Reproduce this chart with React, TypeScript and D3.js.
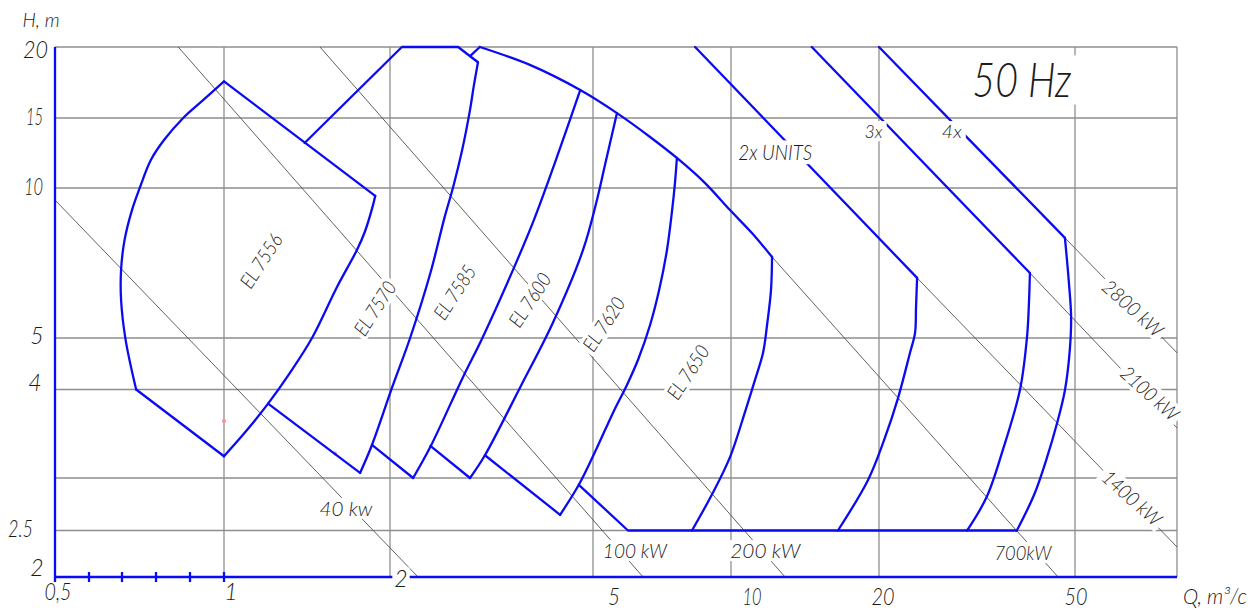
import React, { useEffect, useRef } from 'react';
import * as d3 from 'd3';

type P = [number, number]; // [Q m³/s, H m]

// Axis breakpoints: flow Q and head H
const qBreaks = [0.5, 0.6, 0.7, 0.8, 0.9, 1, 2, 5, 10, 20, 50, 80];
const hBreaks = [2, 2.5, 3, 4, 5, 10, 15, 20];
const qGridValues = [1, 2, 5, 10, 20, 50, 80];
const hGridValues = [2.5, 3, 4, 5, 10, 15, 20];
const qMinorTicks = [0.6, 0.7, 0.8, 0.9, 1];
const qTickValues = [0.5, 1, 2, 5, 10, 20, 50];
const qTickText = ['0,5', '1', '2', '5', '10', '20', '50'];
const hTickValues = [20, 15, 10, 5, 4, 2.5, 2];
const hTickText = ['20', '15', '10', '5', '4', '2.5', '2'];

// EL 7556
const el7556Left: P[] = [[0.74, 4.0], [0.71, 4.96], [0.697, 5.96], [0.697, 6.85], [0.707, 7.86], [0.728, 9.03], [0.7515, 10.06], [0.784, 11.76], [0.8225, 13.2], [0.879, 15.0], [0.938, 16.14], [1, 17.4]];
const el7556Top: P[] = [[1, 17.4], [1.88, 9.64]];
const el7556Right: P[] = [[1.88, 9.64], [1.863, 9.24], [1.8, 8.16], [1.742, 7.51], [1.603, 6.33], [1.444, 5], [1.317, 4.3], [1.202, 3.82], [1.092, 3.48], [1, 3.22]];
const el7556Bottom: P[] = [[0.74, 4.0], [1, 3.22]];
// EL 7570
const el7570Top: P[] = [[1.4, 12.98], [2.11, 20], [2.72, 20], [2.975, 18.8]];
const el7570Right: P[] = [[2.975, 18.8], [2.92, 17.1], [2.87, 15.5], [2.77, 12.46], [2.66, 10.06], [2.56, 8.75], [2.4, 6.75], [2.19, 5], [2.02, 4.04], [1.855, 3.34], [1.765, 3.05]];
const el7570Bottom: P[] = [[1.202, 3.82], [1.765, 3.05]];
// EL 7585
const el7585Top: P[] = [[2.87, 19.28], [3.0, 20]];
const outerEnvelope: P[] = [[3.0, 20], [3.76, 18.6], [4.72, 16.8], [5.64, 15.3], [6.66, 13.44], [7.62, 11.9], [8.78, 10.29], [9.95, 9.03], [11.03, 8.12], [12.12, 7.27]];
const el7585Right: P[] = [[4.72, 16.8], [4.25, 11.97], [3.83, 8.63], [3.485, 6.85], [3.04, 5.02], [2.78, 4.22], [2.4, 3.32], [2.22, 3.0]];
const el7585Bottom: P[] = [[1.855, 3.34], [2.22, 3.0]];
// EL 7600
const el7600Right: P[] = [[5.64, 15.3], [5.31, 11.42], [5.1, 9.46], [4.78, 7.51], [4.17, 5.36], [3.6, 4.04], [3.07, 3.23], [2.87, 3.0]];
const el7600Bottom: P[] = [[2.4, 3.33], [2.87, 3.0]];
// EL 7620
const el7620Right: P[] = [[7.62, 11.9], [7.55, 10.35], [7.44, 9.03], [7.25, 7.51], [6.97, 6.24], [6.66, 5.31], [6.27, 4.55], [5.93, 4.08], [5.53, 3.71], [5.1, 3.31], [4.69, 2.93], [4.31, 2.64]];
const el7620Bottom: P[] = [[3.07, 3.23], [4.31, 2.64]];
// EL 7650
const el7650Right: P[] = [[12.12, 7.27], [12.06, 6.24], [11.84, 5.31], [11.62, 4.69], [11.19, 4.17], [10.68, 3.72], [9.95, 3.21], [9.13, 2.85], [8.22, 2.5]];
const el7650Bottom: P[] = [[4.69, 2.93], [5.96, 2.5], [38.1, 2.5]];
// Parallel units
const units2Line: P[] = [[8.35, 20], [23.9, 6.6]];
const units2Arc: P[] = [[23.9, 6.6], [23.78, 5.77], [23.67, 5.12], [23.12, 4.69], [21.86, 3.89], [20.47, 3.39], [19.0, 2.98], [16.5, 2.5]];
const units3Line: P[] = [[14.6, 20], [40.5, 6.75]];
const units3Arc: P[] = [[40.5, 6.75], [40.3, 5.82], [39.95, 5.02], [38.67, 4.0], [35.7, 3.29], [33.1, 2.81], [30.2, 2.5]];
const units4Line: P[] = [[20, 20], [47.7, 7.94]];
const units4Arc: P[] = [[47.7, 7.94], [48.6, 6.45], [49.1, 5.51], [48.8, 4.75], [47.7, 3.99], [46.0, 3.59], [43.7, 3.18], [41.3, 2.83], [38.1, 2.5]];

// Constant shaft-power lines (kW)
const powerKw = [40, 100, 200, 700, 1400, 2100, 2800];
const powerStart: P[] = [[0.5, 9.46], [0.864, 20], [1.493, 20], [12.12, 7.27], [23.9, 6.6], [40.5, 6.75], [47.7, 7.94]];
const powerEnd: P[] = [[2.27, 2], [6.43, 2], [12.88, 2], [46.2, 2], [80, 2.31], [80, 3.53], [80, 4.69]];
const powerText = ['40 kw', '100 kW', '200 kW', '700kW', '1400 kW', '2100 kW', '2800 kW'];
const powerLabelAt: P[] = [[1.664, 2.7], [6.17, 2.27], [11.74, 2.27], [39.2, 2.25], [65.0, 2.8], [70.6, 3.95], [65.3, 5.74]];

// Pump model labels
const modelNames = ['EL 7556', 'EL 7570', 'EL 7585', 'EL 7600', 'EL 7620', 'EL 7650'];
const modelLabelAt: P[] = [[1.167, 7.14], [1.878, 5.74], [2.68, 6.18], [3.76, 5.96], [5.28, 5.33], [8.06, 4.31]];

const unitText = ['2x UNITS', '3x', '4x'];
const unitLabelAt: P[] = [[12.3, 12.3], [19.5, 13.9], [28.1, 13.9]];
const freqText = '50 Hz';
const freqLabelAt: P = [39, 17.5];
const strayPoints: P[] = [[1, 3.61], [1.59, 3.25]];

// ---- layout ----
const X_RANGE = [55, 89, 122, 156, 190, 224, 390, 593, 731, 879, 1075, 1177];
const Y_RANGE = [577, 530.5, 478, 389.5, 338, 188, 118, 47];
const FONT = "Lato, 'Open Sans', 'DejaVu Sans', sans-serif";
const INK = '#1c1c1c';
const BLUE = '#0b0bf2';
const GRID = '#8e8e8e';
const POWER = '#505050';

const xTickDx = [3, 7, 11, 21, 21, 4, 1];
const xTickBase = [23, 23, 10, 28, 28, 28, 28];
const xTickW = [27, 0, 0, 12, 19, 23, 23];
const yTickEnd = [48, 43, 43, 43, 41, 33, 43];
const yTickDy = [3, -1, -1, -2, -7, -2, -9];
const yTickW = [25, 17, 19, 0, 0, 25, 0];
const powerW = [53, 64, 70, 57, 72, 70, 74];
const powerRot = [0, 0, 0, 0, 42, 42, 42];

export default function App() {
  const ref = useRef<SVGSVGElement>(null);

  useEffect(() => {
    const svg = d3.select(ref.current);
    svg.selectAll('*').remove();

    const x = d3.scaleLog().domain(qBreaks).range(X_RANGE);
    const y = d3.scaleLog().domain(hBreaks).range(Y_RANGE);
    const straight = d3.line<P>().x(d => x(d[0])).y(d => y(d[1]));
    const smooth = d3.line<P>().x(d => x(d[0])).y(d => y(d[1])).curve(d3.curveCatmullRom.alpha(0.5));

    const x0 = x(0.5), x1 = x(80), y0 = y(2), y1 = y(20);

    // grid
    const grid = svg.append('g').attr('stroke', GRID).attr('stroke-width', 1.3).attr('fill', 'none');
    hGridValues.forEach(v => grid.append('line').attr('x1', x0).attr('x2', x1).attr('y1', y(v)).attr('y2', y(v)));
    qGridValues.forEach(v => grid.append('line').attr('x1', x(v)).attr('x2', x(v)).attr('y1', y1).attr('y2', y0));

    // power lines
    const pw = svg.append('g').attr('stroke', POWER).attr('stroke-width', 0.9).attr('fill', 'none');
    powerKw.forEach((_, i) => pw.append('path').attr('d', straight([powerStart[i], powerEnd[i]])!));

    // stray construction points
    strayPoints.forEach(p => svg.append('circle').attr('cx', x(p[0])).attr('cy', y(p[1])).attr('r', 2).attr('fill', '#ff8f8f'));

    // pump ranges
    const blue = svg.append('g').attr('stroke', BLUE).attr('stroke-width', 2.3).attr('fill', 'none')
      .attr('stroke-linejoin', 'round').attr('stroke-linecap', 'round');
    const curves = [el7556Left, el7556Right, el7570Right, outerEnvelope, el7585Right, el7600Right, el7620Right, el7650Right, units2Arc, units3Arc, units4Arc];
    const polylines = [el7556Top, el7556Bottom, el7570Top, el7570Bottom, el7585Top, el7585Bottom, el7600Bottom, el7620Bottom, el7650Bottom, units2Line, units3Line, units4Line];
    curves.forEach(c => blue.append('path').attr('d', smooth(c)!));
    polylines.forEach(c => blue.append('path').attr('d', straight(c)!));

    // axes
    const ax = svg.append('g').attr('stroke', BLUE).attr('stroke-width', 2.3);
    ax.append('line').attr('x1', x0).attr('x2', x0).attr('y1', y1).attr('y2', y0 + 5);
    ax.append('line').attr('x1', x0).attr('x2', x1).attr('y1', y0).attr('y2', y0);
    qMinorTicks.forEach(v => ax.append('line').attr('x1', x(v)).attr('x2', x(v)).attr('y1', y0 - 5).attr('y2', y0 + 5));

    const label = (cx: number, cy: number, rot: number, text: string, size: number, width: number, bg: number) => {
      const g = svg.append('g').attr('transform', `translate(${cx},${cy}) rotate(${rot})`);
      const t = g.append('text').attr('x', 0).attr('y', size * 0.36).attr('text-anchor', 'middle')
        .attr('font-family', FONT).attr('font-style', 'italic').attr('font-weight', 300)
        .attr('font-size', size).attr('fill', INK).text(text);
      if (width > 0) t.attr('textLength', width).attr('lengthAdjust', 'spacingAndGlyphs');
      if (bg >= 0) {
        const b = (t.node() as SVGTextElement).getBBox();
        g.insert('rect', 'text').attr('x', -b.width / 2 - bg).attr('y', -size * 0.45 - bg / 2)
          .attr('width', b.width + 2 * bg).attr('height', size * 0.9 + bg).attr('fill', '#fff');
      }
    };

    // tick labels
    qTickValues.forEach((v, i) => {
      label(x(v) + xTickDx[i], y0 + xTickBase[i] - 23 * 0.36, 0, qTickText[i], 23, xTickW[i], v === 2 ? 2 : -1);
    });
    hTickValues.forEach((v, i) => {
      const w = yTickW[i] > 0 ? yTickW[i] : 12;
      label(yTickEnd[i] - w / 2, y(v) + yTickDy[i], 0, hTickText[i], 23, yTickW[i], -1);
    });
    label(41, 20, 0, 'H, m', 19, 37, -1);
    label(1215, 596, 0, 'Q, m³/c', 21, 64, -1);

    // annotations
    powerText.forEach((t, i) => {
      const p = powerLabelAt[i];
      label(x(p[0]), y(p[1]), powerRot[i], t, 20, powerW[i], 3);
    });
    modelNames.forEach((t, i) => {
      const p = modelLabelAt[i];
      label(x(p[0]), y(p[1]), -57, t, 20, 60, 3);
    });
    label(x(unitLabelAt[0][0]), y(unitLabelAt[0][1]), 0, unitText[0], 22, 74, 4);
    label(x(unitLabelAt[1][0]), y(unitLabelAt[1][1]), 0, unitText[1], 18, 18, 4);
    label(x(unitLabelAt[2][0]), y(unitLabelAt[2][1]), 0, unitText[2], 18, 20, 4);
    label(x(freqLabelAt[0]), y(freqLabelAt[1]), 0, freqText, 48, 99, 6);
  }, []);

  return (
    <div style={{ position: 'fixed', left: 0, top: 0 }}>
      <svg ref={ref} width={1260} height={610} style={{ display: 'block', background: '#fff' }} />
    </div>
  );
}
